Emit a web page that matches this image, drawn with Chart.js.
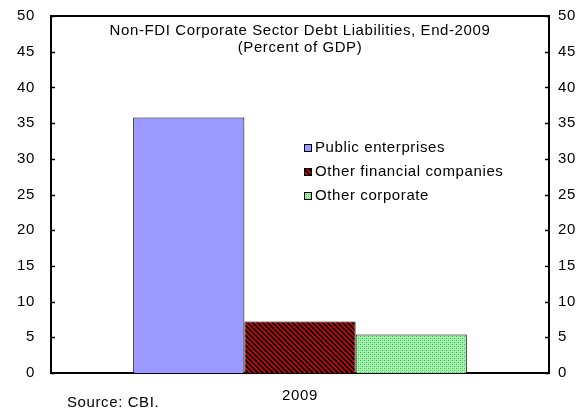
<!DOCTYPE html>
<html>
<head>
<meta charset="utf-8">
<script src="https://cdn.jsdelivr.net/npm/chart.js@4"></script>
<style>
  html, body { margin: 0; padding: 0; background: #fff; }
  #wrap { width: 585px; height: 409px; }
</style>
</head>
<body>
<div id="wrap"><canvas id="myChart" width="585" height="409"></canvas></div>
<script>
// data
var categories = ['2009'];
var publicEnterprises = [35.8];
var otherFinancial = [7.2];
var otherCorporate = [5.4];
var titleLines = ['Non-FDI Corporate Sector Debt Liabilities, End-2009', '(Percent of GDP)'];
var sourceNote = 'Source: CBI.';

var FONT = '"Liberation Sans", Arial, sans-serif';
var SPACING = '0.6px';
Chart.defaults.font.family = FONT;
Chart.defaults.font.size = 15;
Chart.defaults.color = '#000';

// red with black diagonal stripes
function hatchPattern() {
    var s = 5;
    var c = document.createElement('canvas');
    c.width = s; c.height = s;
    var g = c.getContext('2d');
    g.fillStyle = '#ff0000';
    g.fillRect(0, 0, s, s);
    g.strokeStyle = '#000';
    g.lineWidth = 2.2;
    [-s, 0, s].forEach(function (o) {
        g.beginPath();
        g.moveTo(o - 1, -1);
        g.lineTo(o + s + 1, s + 1);
        g.stroke();
    });
    return g.createPattern(c, 'repeat');
}

// light green with darker dots
function dotPattern() {
    var s = 4;
    var c = document.createElement('canvas');
    c.width = s; c.height = s;
    var g = c.getContext('2d');
    g.fillStyle = '#a6f2ad';
    g.fillRect(0, 0, s, s);
    g.fillStyle = '#3fb45c';
    g.fillRect(0, 0, 1, 1);
    g.fillRect(2, 2, 1, 1);
    g.fillStyle = '#6fd480';
    g.fillRect(0, 2, 1, 1);
    g.fillRect(2, 0, 1, 1);
    return g.createPattern(c, 'repeat');
}

// wider letter spacing for all text
var spacing = {
    id: 'spacing',
    beforeDraw: function (chart) { chart.ctx.letterSpacing = SPACING; }
};

// frame top, inward tick marks, title, legend and source note
var decorations = {
    id: 'decorations',
    afterDraw: function (chart) {
        var ctx = chart.ctx;
        var area = chart.chartArea;
        ctx.save();
        ctx.letterSpacing = SPACING;
        ctx.strokeStyle = '#000';
        ctx.lineWidth = 2;
        ctx.beginPath();
        ctx.moveTo(area.left - 1, area.top);
        ctx.lineTo(area.right + 1, area.top);
        ctx.stroke();

        ctx.lineWidth = 1.5;
        ['y', 'y2'].forEach(function (id) {
            var sc = chart.scales[id];
            var x = id === 'y' ? area.left : area.right;
            var dir = id === 'y' ? 1 : -1;
            sc.ticks.forEach(function (t) {
                var py = Math.round(sc.getPixelForValue(t.value)) + 0.5;
                ctx.beginPath();
                ctx.moveTo(x, py);
                ctx.lineTo(x + dir * 4, py);
                ctx.stroke();
            });
        });

        ctx.fillStyle = '#000';
        ctx.font = '15px ' + FONT;
        ctx.textAlign = 'center';
        ctx.textBaseline = 'middle';
        var cx = (area.left + area.right) / 2;
        ctx.fillText(titleLines[0], cx, 31);
        ctx.fillText(titleLines[1], cx, 48);

        ctx.textAlign = 'left';
        chart.data.datasets.forEach(function (ds, i) {
            var y = 148 + i * 24;
            ctx.fillStyle = ds.backgroundColor;
            ctx.fillRect(304, y - 4, 8, 8);
            ctx.lineWidth = 1;
            ctx.strokeStyle = '#000';
            ctx.strokeRect(304.5, y - 3.5, 7, 7);
            ctx.fillStyle = '#000';
            ctx.fillText(ds.label, 315, y);
        });

        ctx.fillText(sourceNote, 67, 403);
        ctx.restore();
    }
};

var noGrid = { display: false, drawTicks: false, tickLength: 0 };

// fixed axis width, no extra padding for overhanging labels
function fitY(w) {
    return function (s) {
        s.width = w;
        s.paddingTop = 0;
        s.paddingBottom = 0;
    };
}

var ctx = document.getElementById('myChart').getContext('2d');
var chart = new Chart(ctx, {
    type: 'bar',
    data: {
        labels: categories,
        datasets: [{
            label: 'Public enterprises',
            data: publicEnterprises,
            backgroundColor: '#9999ff',
            borderColor: '#000',
            borderWidth: 1
        }, {
            label: 'Other financial companies',
            data: otherFinancial,
            backgroundColor: hatchPattern(),
            borderColor: '#000',
            borderWidth: 1
        }, {
            label: 'Other corporate',
            data: otherCorporate,
            backgroundColor: dotPattern(),
            borderColor: '#000',
            borderWidth: 1
        }]
    },
    options: {
        responsive: false,
        animation: false,
        layout: { padding: { top: 16, left: 0, right: 0, bottom: 0 } },
        datasets: { bar: { categoryPercentage: 0.67, barPercentage: 1 } },
        plugins: { legend: { display: false }, tooltip: { enabled: false } },
        scales: {
            x: {
                position: 'bottom',
                grid: noGrid,
                border: { color: '#000', width: 2 },
                ticks: { padding: 14 },
                afterFit: function (s) { s.height = 36; }
            },
            y: {
                position: 'left',
                min: 0, max: 50,
                grid: noGrid,
                border: { color: '#000', width: 2 },
                ticks: { stepSize: 5, padding: 16 },
                afterFit: fitY(51)
            },
            y2: {
                position: 'right',
                min: 0, max: 50,
                grid: noGrid,
                border: { color: '#000', width: 2 },
                ticks: { stepSize: 5, padding: 9 },
                afterFit: fitY(36)
            }
        }
    },
    plugins: [spacing, decorations]
});
</script>
</body>
</html>
